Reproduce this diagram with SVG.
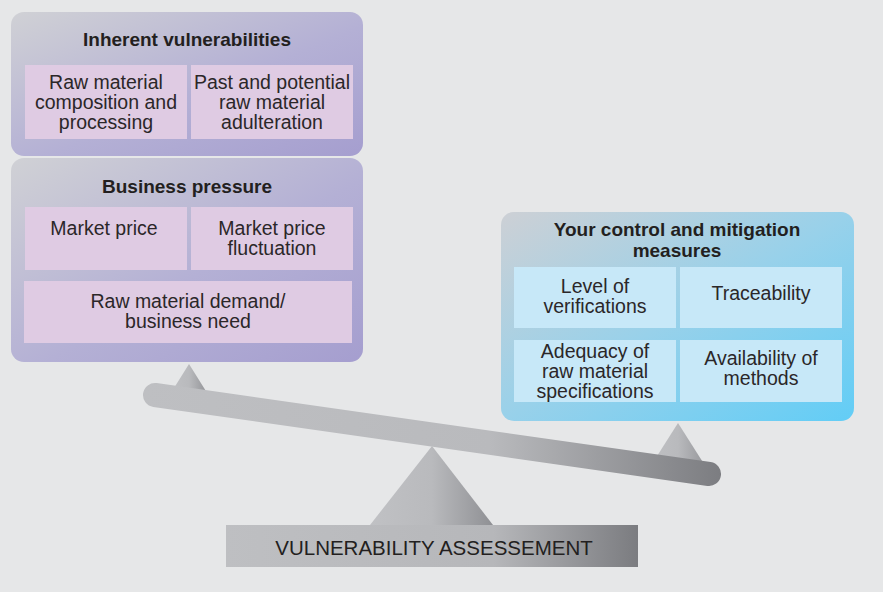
<svg xmlns="http://www.w3.org/2000/svg" width="883" height="592" viewBox="0 0 883 592">
<defs>
<linearGradient id="gPurple" x1="0" y1="0" x2="1" y2="1">
<stop offset="0" stop-color="#d0d1d5"/>
<stop offset="0.55" stop-color="#b4b0d5"/>
<stop offset="1" stop-color="#a59ecf"/>
</linearGradient>
<linearGradient id="gBlue" x1="0" y1="0" x2="1" y2="1">
<stop offset="0" stop-color="#cdd0d5"/>
<stop offset="0.5" stop-color="#98d1ea"/>
<stop offset="1" stop-color="#62cdf6"/>
</linearGradient>
<linearGradient id="gBeam" gradientUnits="userSpaceOnUse" x1="143" y1="0" x2="721" y2="0">
<stop offset="0" stop-color="#bebfc2"/>
<stop offset="0.6" stop-color="#b9babd"/>
<stop offset="1" stop-color="#7c7d81"/>
</linearGradient>
<linearGradient id="gTri" x1="0" y1="0" x2="1" y2="0">
<stop offset="0" stop-color="#c0c1c4"/>
<stop offset="0.5" stop-color="#b9babd"/>
<stop offset="1" stop-color="#8f9094"/>
</linearGradient>
<linearGradient id="gLabel" x1="0" y1="0" x2="1" y2="0">
<stop offset="0" stop-color="#bebfc2"/>
<stop offset="0.65" stop-color="#b6b7ba"/>
<stop offset="1" stop-color="#7b7c80"/>
</linearGradient>
<style>
.title{font-family:"Liberation Sans",Arial,sans-serif;font-weight:bold;font-size:19px;fill:#231f20;text-anchor:middle}
.txt{font-family:"Liberation Sans",Arial,sans-serif;font-size:19.5px;fill:#2b2729;text-anchor:middle}
.pcell{fill:#dfcbe3}
.bcell{fill:#c7e8f8}
.pbox{fill:url(#gPurple)}
.bbox{fill:url(#gBlue)}
</style>
</defs>
<rect width="883" height="592" fill="#e6e7e8"/>

<g id="inherent-vulnerabilities">
<rect class="pbox" x="11" y="12" width="352" height="144" rx="13"/>
<text class="title" x="187" y="46">Inherent vulnerabilities</text>
<g id="raw-material-composition">
<rect class="pcell" x="25" y="65" width="162" height="74"/>
<text class="txt" x="106" y="89">Raw material</text>
<text class="txt" x="106" y="109">composition and</text>
<text class="txt" x="106" y="129">processing</text>
</g>
<g id="past-potential-adulteration">
<rect class="pcell" x="191" y="65" width="162" height="74"/>
<text class="txt" x="272" y="89">Past and potential</text>
<text class="txt" x="272" y="109">raw material</text>
<text class="txt" x="272" y="129">adulteration</text>
</g>
</g>

<g id="business-pressure">
<rect class="pbox" x="11" y="158" width="352" height="204" rx="13"/>
<text class="title" x="187" y="193">Business pressure</text>
<g id="market-price">
<rect class="pcell" x="25" y="207" width="162" height="63"/>
<text class="txt" x="104" y="235">Market price</text>
</g>
<g id="market-price-fluctuation">
<rect class="pcell" x="191" y="207" width="162" height="63"/>
<text class="txt" x="272" y="235">Market price</text>
<text class="txt" x="272" y="255">fluctuation</text>
</g>
<g id="raw-material-demand">
<rect class="pcell" x="24" y="281" width="328" height="62"/>
<text class="txt" x="188" y="308">Raw material demand/</text>
<text class="txt" x="188" y="328">business need</text>
</g>
</g>

<g id="control-mitigation">
<rect class="bbox" x="501" y="212" width="353" height="209" rx="13"/>
<text class="title" x="677" y="236">Your control and mitigation</text>
<text class="title" x="677" y="257">measures</text>
<g id="level-of-verifications">
<rect class="bcell" x="514" y="267" width="162" height="61"/>
<text class="txt" x="595" y="293">Level of</text>
<text class="txt" x="595" y="313">verifications</text>
</g>
<g id="traceability">
<rect class="bcell" x="680" y="267" width="162" height="61"/>
<text class="txt" x="761" y="300">Traceability</text>
</g>
<g id="adequacy-specifications">
<rect class="bcell" x="514" y="340" width="162" height="62"/>
<text class="txt" x="595" y="358">Adequacy of</text>
<text class="txt" x="595" y="378">raw material</text>
<text class="txt" x="595" y="398">specifications</text>
</g>
<g id="availability-of-methods">
<rect class="bcell" x="680" y="340" width="162" height="62"/>
<text class="txt" x="761" y="365">Availability of</text>
<text class="txt" x="761" y="385">methods</text>
</g>
</g>

<g id="seesaw">
<polygon points="189,364 169,396 209,396" fill="url(#gTri)"/>
<polygon points="678,423 645,475 711,475" fill="url(#gTri)"/>
<polygon points="432,446 370,525 493,525" fill="url(#gTri)"/>
<line x1="155" y1="395" x2="709" y2="474" stroke="url(#gBeam)" stroke-width="24" stroke-linecap="round"/>
</g>

<g id="vulnerability-assessment">
<rect x="226" y="525" width="412" height="42" fill="url(#gLabel)"/>
<text x="434" y="555" font-family="Liberation Sans, Arial, sans-serif" font-size="20.5" fill="#231f20" text-anchor="middle">VULNERABILITY ASSESSEMENT</text>
</g>
</svg>
